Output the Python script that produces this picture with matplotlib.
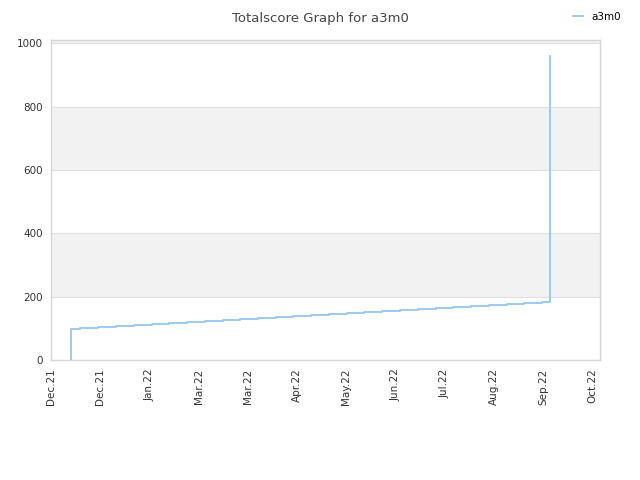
import matplotlib
matplotlib.use("Agg")
import matplotlib.pyplot as plt

# x positions in days from first tick, y = total score
days = [12.2, 12.2, 17.7, 28.5, 39.6, 50.6, 61.4, 72.1, 82.9, 93.9, 104.7, 115.4,
        126.4, 137.2, 147.8, 158.5, 169.5, 180.3, 191.1, 202.0, 212.8, 223.6,
        234.6, 245.3, 256.1, 267.1, 277.9, 288.6, 299.6, 304.3]
score = [0, 98, 101, 104, 107, 111, 114, 117, 120, 123, 126, 130, 133, 136, 139,
         142, 145, 148, 151, 155, 158, 161, 164, 167, 170, 173, 176, 180, 183, 961]
tick_pos = [0, 30, 60, 90, 120, 150, 180, 210, 240, 270, 300, 330]
tick_labels = ["Dec.21", "Dec.21", "Jan.22", "Mar.22", "Mar.22", "Apr.22",
               "May.22", "Jun.22", "Jul.22", "Aug.22", "Sep.22", "Oct.22"]
yticks = [0, 200, 400, 600, 800, 1000]

fig = plt.figure(figsize=(6.4, 4.8), dpi=100)
ax = fig.add_axes([0.0797, 0.25, 0.8578, 0.6667])

# alternating bands
for lo in (200, 600, 1000):
    ax.axhspan(lo, lo + 200, color="#f2f2f2", zorder=0, lw=0)
for y in yticks[1:]:
    ax.axhline(y, color="#e0e0e0", lw=0.8, zorder=1)

ax.plot(days, score, drawstyle="steps-post", color="#93c6f4", lw=1.3,
        label="a3m0", zorder=3)

ax.set_xlim(0, 334.8)
ax.set_ylim(0, 1010)
ax.set_xticks(tick_pos)
ax.set_xticklabels(tick_labels, rotation=90)
ax.set_yticks(yticks)
ax.tick_params(length=0, labelsize=7.5, colors="#333333", pad=6)
for s in ax.spines.values():
    s.set_color("#d6d6d6")
    s.set_linewidth(1)

fig.text(0.5, 0.975, "Totalscore Graph for a3m0", ha="center", va="top",
         fontsize=9.5, color="#444444")
fig.legend(loc="upper right", bbox_to_anchor=(0.985, 0.995), frameon=False,
           fontsize=7.5, handlelength=1.0, handletextpad=0.8)

fig.savefig("out.png", dpi=100)
